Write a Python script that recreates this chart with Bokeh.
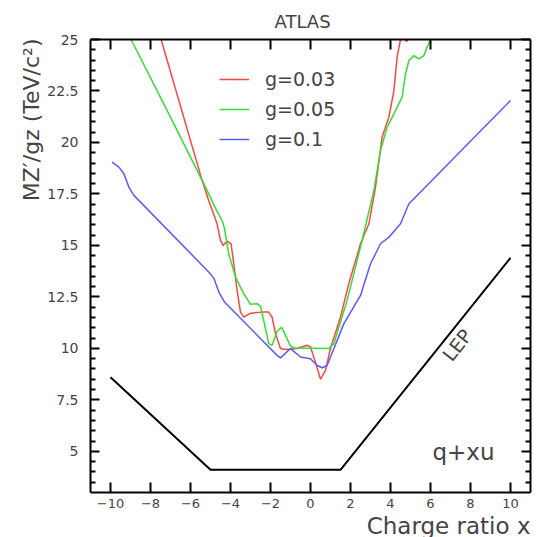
from bokeh.plotting import figure
from bokeh.models import LinearAxis, FixedTicker, Range1d, Label, Legend, LegendItem, Title
from bokeh.embed import file_html
from bokeh.resources import INLINE

# ---------------- data ----------------
x_tick_values = [-10, -8, -6, -4, -2, 0, 2, 4, 6, 8, 10]
x_tick_labels = ["−10", "−8", "−6", "−4", "−2", "0", "2", "4", "6", "8", "10"]
y_tick_values = [5, 7.5, 10, 12.5, 15, 17.5, 20, 22.5, 25]
y_tick_labels = ["5", "7.5", "10", "12.5", "15", "17.5", "20", "22.5", "25"]
y_minor_values = [3.5, 4, 4.5, 5.5, 6, 6.5, 7, 8, 8.5, 9, 9.5, 10.5, 11, 11.5, 12,
                  13, 13.5, 14, 14.5, 15.5, 16, 16.5, 17, 18, 18.5, 19, 19.5,
                  20.5, 21, 21.5, 22, 23, 23.5, 24, 24.5]

lep_x = [-10, -5, 1.5, 10]
lep_y = [8.6, 4.1, 4.1, 14.4]

g003_x = [-7.47, -5.42, -5.09, -4.67, -4.5, -4.37, -4.17, -3.97, -3.84, -3.67, -3.5,
          -3.34, -3.0, -2.42, -2.09, -1.92, -1.75, -1.5, -1.25, -0.67, -0.17, 0.0,
          0.25, 0.5, 0.75, 1.0, 1.5, 1.92, 2.5, 2.92, 3.25, 3.58, 3.92, 4.17, 4.33,
          4.5, 4.65, 4.8, 4.95, 5.1]
g003_y = [25.0, 18.16, 17.18, 16.05, 15.24, 15.0, 15.21, 15.08, 14.13, 12.82, 11.76,
          11.52, 11.71, 11.76, 11.76, 11.52, 10.71, 9.99, 9.94, 9.99, 10.15, 10.07,
          9.32, 8.5, 8.93, 10.0, 11.52, 13.16, 15.08, 16.05, 17.83, 20.26, 21.23,
          22.52, 24.14, 25.0, 25.15, 24.9, 25.1, 25.4]

g005_x = [-8.97, -6.92, -5.17, -4.7, -4.42, -4.3, -4.09, -3.75, -3.34, -3.0, -2.67,
          -2.5, -2.34, -2.09, -1.92, -1.67, -1.44, -1.2, -1.0, -0.8, 0.92, 1.17,
          1.83, 2.58, 3.17, 3.5, 3.83, 4.25, 4.58, 4.75, 4.92, 5.17, 5.42, 5.67,
          5.83, 6.0]
g005_y = [25.0, 21.07, 17.67, 16.7, 16.21, 15.83, 14.6, 13.46, 12.66, 12.14, 12.17,
          12.04, 11.36, 10.23, 10.15, 10.83, 11.02, 10.53, 10.1, 10.02, 9.99, 10.23,
          12.33, 15.24, 17.67, 19.61, 20.74, 21.55, 22.2, 23.33, 23.98, 24.22, 24.06,
          24.22, 24.63, 25.0]

g01_x = [-9.92, -9.58, -9.33, -9.08, -8.83, -5.08, -4.83, -4.58, -4.3, -1.67, -1.5,
         -1.0, -0.5, 0.0, 0.33, 0.58, 0.83, 1.67, 2.5, 3.0, 3.5, 3.92, 4.5, 4.92,
         5.17, 10.0]
g01_y = [19.04, 18.8, 18.48, 17.83, 17.43, 13.7, 13.4, 12.73, 12.25, 9.66, 9.54,
         9.99, 9.58, 9.5, 9.17, 9.06, 9.17, 11.2, 12.57, 14.11, 15.08, 15.4, 16.05,
         17.02, 17.27, 22.04]

series_labels = ["g=0.03", "g=0.05", "g=0.1"]

# ---------------- figure ----------------
FONT = "DejaVu Sans"
TXT = "#444444"
FL, FT, FW, FH = 90, 39, 440, 453   # frame left/top/width/height in page pixels

p = figure(frame_width=FW, frame_height=FH,
           min_border_left=FL, min_border_right=544 - FL - FW,
           min_border_top=FT, min_border_bottom=537 - FT - FH,
           x_range=Range1d(-11, 11), y_range=Range1d(3, 25),
           output_backend="svg", toolbar_location=None,
           background_fill_color="white", border_fill_color="white")
p.grid.visible = False
p.outline_line_color = None

p.title.text = "ATLAS"
p.title.align = "left"
p.title.offset = 184
p.title.text_font = FONT
p.title.text_font_size = "18px"
p.title.text_font_style = "normal"
p.title.text_color = TXT
p.title.standoff = 15

def style_axis(ax, ticks, minor, tick_len, show_labels, standoff):
    ax.ticker = FixedTicker(ticks=ticks, minor_ticks=minor)
    ax.axis_line_width = 2
    ax.axis_line_color = "black"
    ax.major_tick_line_width = 2
    ax.major_tick_line_color = "black"
    ax.major_tick_in = tick_len
    ax.major_tick_out = 0
    ax.minor_tick_in = 5
    ax.minor_tick_out = 0
    ax.minor_tick_line_width = 2
    ax.minor_tick_line_color = "black" if minor else None
    ax.major_label_standoff = standoff
    if show_labels:
        ax.major_label_text_font = FONT
        ax.major_label_text_color = TXT
    else:
        ax.major_label_text_font_size = "0px"

xl = p.xaxis[0]
style_axis(xl, x_tick_values, [], 10, True, 6)
xl.major_label_overrides = {v: s for v, s in zip(x_tick_values, x_tick_labels)}
xl.major_label_text_font_size = "13px"

yl = p.yaxis[0]
style_axis(yl, y_tick_values, y_minor_values, 9, True, 12)
yl.major_label_overrides = {v: s for v, s in zip(y_tick_values, y_tick_labels)}
yl.major_label_text_font_size = "14px"

top_ax = LinearAxis()
style_axis(top_ax, x_tick_values, [], 10, False, 0)
p.add_layout(top_ax, "above")
right_ax = LinearAxis()
style_axis(right_ax, y_tick_values, y_minor_values, 9, False, 0)
p.add_layout(right_ax, "right")

# axis titles (ROOT style: aligned to the far end of each axis)
xt = Title(text="Charge ratio x", align="right", text_font=FONT, text_font_size="23px",
           text_font_style="normal", text_color=TXT, standoff=0, offset=0)
p.add_layout(xt, "below")
yt = Title(text="MZ′/gz (TeV/c²)", align="right", text_font=FONT, text_font_size="22px",
           text_font_style="normal", text_color=TXT, standoff=2, offset=-1)
p.add_layout(yt, "left")

# ---------------- lines ----------------
r_lep = p.line(lep_x, lep_y, line_color="black", line_width=2)
r1 = p.line(g003_x, g003_y, line_color="#ff4444", line_width=1.5)
r2 = p.line(g005_x, g005_y, line_color="#33dd33", line_width=1.5)
r3 = p.line(g01_x, g01_y, line_color="#5a5aff", line_width=1.5)

legend = Legend(items=[LegendItem(label=series_labels[0], renderers=[r1]),
                       LegendItem(label=series_labels[1], renderers=[r2]),
                       LegendItem(label=series_labels[2], renderers=[r3])],
                location=(129, 341), border_line_color=None, background_fill_alpha=0,
                padding=0, margin=0, spacing=6, glyph_width=30, glyph_height=24,
                label_height=24, label_standoff=16,
                label_text_font=FONT, label_text_font_size="19px", label_text_color=TXT)
p.add_layout(legend, "center")

# ---------------- texts ----------------
p.add_layout(Label(x=7.33, y=10.16, text="LEP", angle=0.907, text_align="center",
                   text_baseline="middle", text_font=FONT, text_font_size="19px",
                   text_color=TXT))
p.add_layout(Label(x=7.65, y=4.95, text="q+xu", text_align="center",
                   text_baseline="alphabetic", text_font=FONT, text_font_size="23px",
                   text_color=TXT))

open("out.html", "w").write(file_html(p, INLINE))
